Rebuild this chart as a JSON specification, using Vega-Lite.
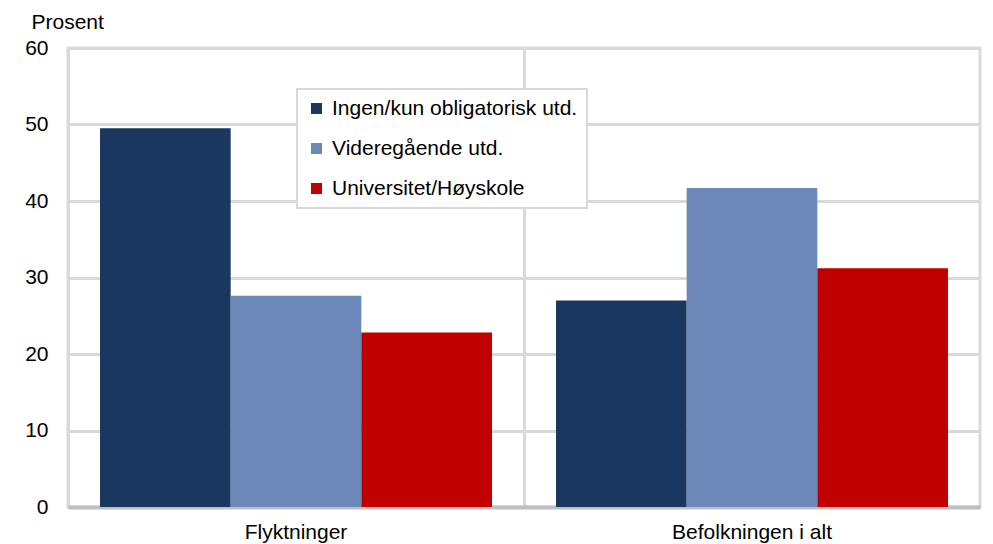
{
  "$schema": "https://vega.github.io/schema/vega-lite/v6.json",
  "width": 912,
  "height": 459,
  "autosize": "none",
  "padding": {"left": 68, "top": 48, "right": 13, "bottom": 37},
  "background": "white",
  "config": {
    "font": "Liberation Sans",
    "view": {"stroke": "#d9d9d9", "strokeWidth": 3}
  },
  "data": {
    "values": [
      {"gruppe": "Flyktninger", "utdanning": "Ingen/kun obligatorisk utd.", "prosent": 49.5},
      {"gruppe": "Flyktninger", "utdanning": "Videregående utd.", "prosent": 27.6},
      {"gruppe": "Flyktninger", "utdanning": "Universitet/Høyskole", "prosent": 22.8},
      {"gruppe": "Befolkningen i alt", "utdanning": "Ingen/kun obligatorisk utd.", "prosent": 27.0},
      {"gruppe": "Befolkningen i alt", "utdanning": "Videregående utd.", "prosent": 41.7},
      {"gruppe": "Befolkningen i alt", "utdanning": "Universitet/Høyskole", "prosent": 31.2}
    ]
  },
  "mark": {"type": "bar"},
  "encoding": {
    "x": {
      "field": "gruppe",
      "type": "nominal",
      "sort": ["Flyktninger", "Befolkningen i alt"],
      "scale": {"paddingInner": 0, "paddingOuter": 0},
      "axis": {
        "title": null,
        "labelAngle": 0,
        "labelFontSize": 21,
        "labelColor": "#000000",
        "labelPadding": 14,
        "ticks": false,
        "grid": true,
        "bandPosition": 0,
        "gridColor": "#d9d9d9",
        "gridWidth": 3,
        "domainColor": "#bfbfbf",
        "domainWidth": 4
      }
    },
    "xOffset": {
      "field": "utdanning",
      "type": "nominal",
      "sort": ["Ingen/kun obligatorisk utd.", "Videregående utd.", "Universitet/Høyskole"],
      "scale": {"paddingInner": 0, "paddingOuter": 0.245}
    },
    "y": {
      "field": "prosent",
      "type": "quantitative",
      "scale": {"domain": [0, 60]},
      "axis": {
        "title": "Prosent",
        "titleAngle": 0,
        "titleAlign": "left",
        "titleBaseline": "middle",
        "titleX": -37,
        "titleY": -26,
        "titleFontSize": 21,
        "titleFontWeight": "normal",
        "titleColor": "#000000",
        "values": [0, 10, 20, 30, 40, 50, 60],
        "labelFontSize": 21,
        "labelColor": "#000000",
        "labelPadding": 20,
        "ticks": false,
        "domain": false,
        "gridColor": "#d9d9d9",
        "gridWidth": 3
      }
    },
    "color": {
      "field": "utdanning",
      "type": "nominal",
      "sort": ["Ingen/kun obligatorisk utd.", "Videregående utd.", "Universitet/Høyskole"],
      "scale": {
        "domain": ["Ingen/kun obligatorisk utd.", "Videregående utd.", "Universitet/Høyskole"],
        "range": ["#1a3760", "#6c88b8", "#c00000"]
      },
      "legend": {
        "title": null,
        "orient": "none",
        "legendX": 229,
        "legendY": 41,
        "fillColor": "white",
        "strokeColor": "#d9d9d9",
        "padding": 9,
        "symbolType": "square",
        "symbolSize": 121,
        "symbolStrokeWidth": 0,
        "labelFontSize": 21,
        "labelColor": "#000000",
        "labelOffset": 5,
        "rowPadding": 18,
        "labelLimit": 400,
        "encode": {"legend": {"update": {"strokeWidth": {"value": 2}}}}
      }
    }
  }
}
